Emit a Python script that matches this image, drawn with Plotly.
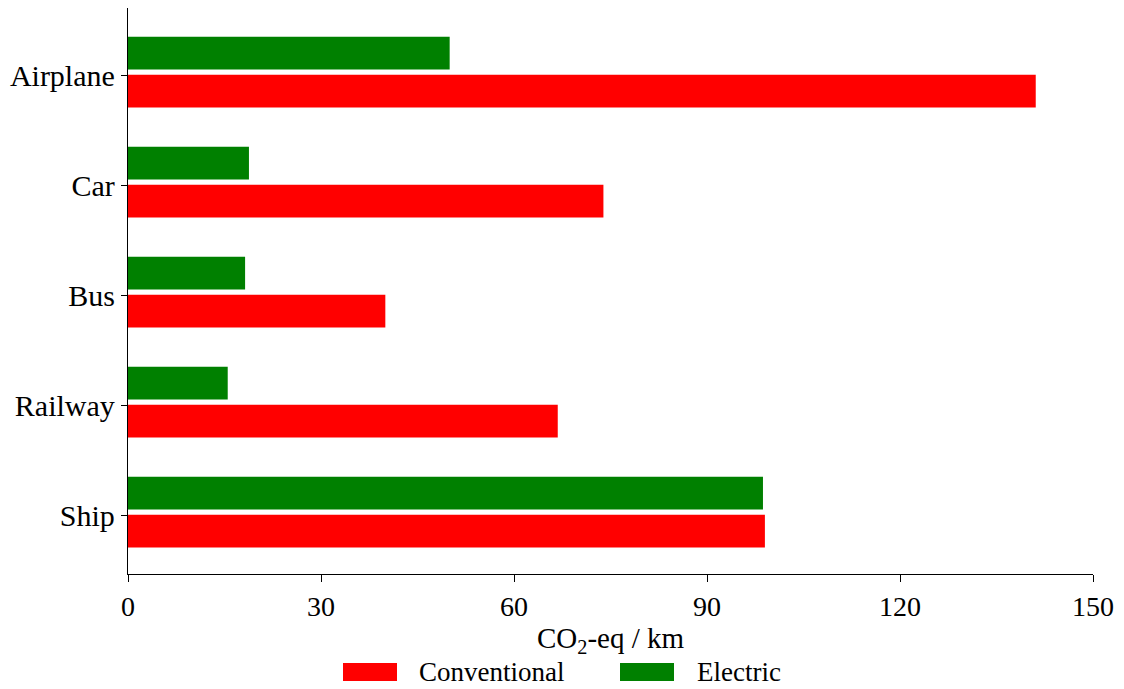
import plotly.graph_objects as go

modes = ["Ship", "Railway", "Bus", "Car", "Airplane"]
conventional = [99.0, 66.8, 40.0, 73.9, 141.1]
electric = [98.7, 15.5, 18.2, 18.8, 50.0]

x_ticks = [0, 30, 60, 90, 120, 150]
series_names = ["Conventional", "Electric"]
series_colors = ["#ff0000", "#008000"]
# bar placement relative to each category (offset, thickness)
bar_offsets = [-0.295, 0.05]
bar_width = 0.297

FONT = "Liberation Serif, Times New Roman, serif"

fig = go.Figure()
for name, vals, color, off in zip(series_names, [conventional, electric], series_colors, bar_offsets):
    fig.add_trace(go.Bar(
        y=modes, x=vals, name=name, orientation="h",
        offset=off, width=bar_width,
        marker=dict(color=color, line=dict(width=0)),
        showlegend=False,
    ))

fig.update_layout(
    width=1124, height=689,
    margin=dict(l=128, r=31, t=8, b=115),
    paper_bgcolor="white", plot_bgcolor="white",
    barmode="overlay",
    font=dict(family=FONT, size=28, color="black"),
    xaxis=dict(
        range=[0, 150], tickvals=x_ticks, ticks="outside", ticklen=7,
        tickwidth=1.3, tickcolor="black", showline=True, linecolor="black",
        linewidth=1.3, showgrid=False, zeroline=False,
        title=dict(text="CO<sub>2</sub>-eq / km", font=dict(size=29), standoff=6),
        tickfont=dict(size=28),
    ),
    yaxis=dict(
        range=[-0.536, 4.609], ticks="outside", ticklen=6, tickwidth=1.3,
        tickcolor="black", showline=True, linecolor="black", linewidth=1.3,
        showgrid=False, zeroline=False, tickfont=dict(size=30),
        categoryorder="array", categoryarray=modes,
    ),
)

# Legend drawn below the axis title: swatch + label per series
legend_items = [(343, 397, 419), (620, 674, 697)]
for (x0, x1, xt), name, color in zip(legend_items, series_names, series_colors):
    fig.add_shape(type="rect", xref="paper", yref="paper",
                  x0=(x0 - 128) / 965, x1=(x1 - 128) / 965,
                  y0=-(681 - 574) / 566, y1=-(663 - 574) / 566,
                  fillcolor=color, line=dict(width=0))
    fig.add_annotation(text=name, xref="paper", yref="paper",
                       x=(xt - 128) / 965, y=-(672 - 574) / 566,
                       xanchor="left", yanchor="middle", showarrow=False,
                       xshift=-2, font=dict(size=27, family=FONT))

fig.write_html("out.html")
